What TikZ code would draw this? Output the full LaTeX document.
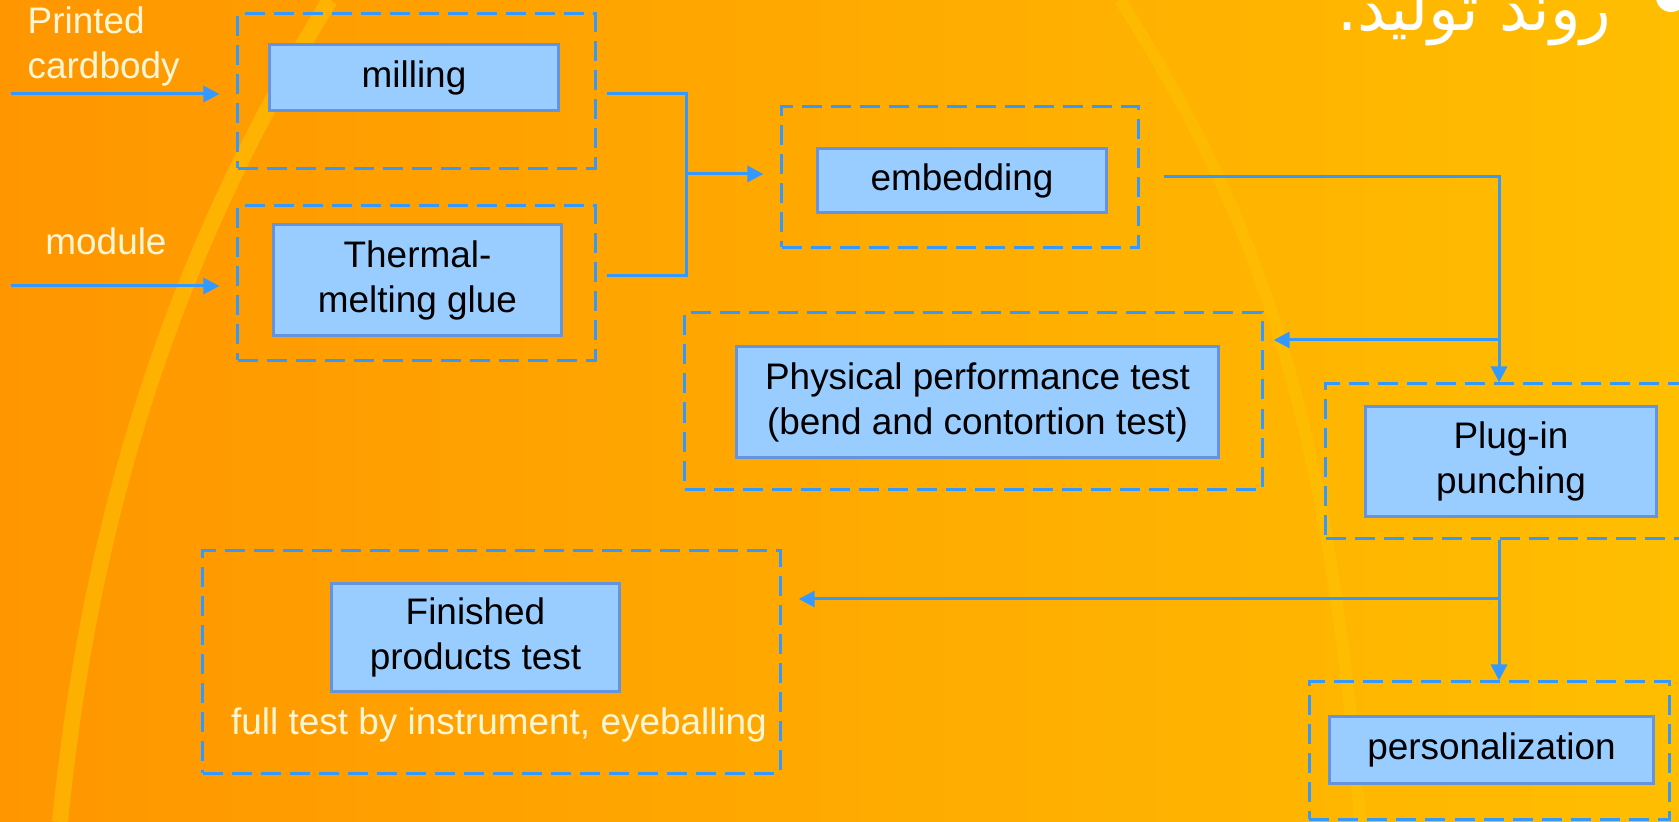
\documentclass[tikz,border=0pt]{standalone}
\usepackage{fontspec}
\setmainfont{Liberation Sans}
\newfontfamily\arabicfont[Script=Arabic]{DejaVu Sans}
\TeXXeTstate=1
\usepackage{tikz}
\usetikzlibrary{arrows.meta,positioning,calc}
\definecolor{bgorange}{RGB}{255,150,0}
\definecolor{bgyellow}{RGB}{255,190,0}
\definecolor{flowblue}{RGB}{51,153,255}
\definecolor{boxfill}{RGB}{153,204,255}
\definecolor{boxedge}{RGB}{100,148,224}
\definecolor{cream}{RGB}{255,246,214}

\begin{document}
\begin{tikzpicture}[x=0.01cm,y=-0.01cm,font=\fontsize{10.5}{12.8}\selectfont,
  frame/.style={draw=flowblue,line width=0.3mm,dash pattern=on 2mm off 0.9mm},
  stage/.style={draw=boxedge,fill=boxfill,line width=0.3mm,align=center,inner sep=0pt},
  flow/.style={draw=flowblue,line width=0.3mm},
  flowarr/.style={flow,-{Triangle[length=1.6mm,width=1.6mm]}},
  lbl/.style={text=cream,inner sep=0pt}]
\useasboundingbox (0,0) rectangle (1679,822);
% background
\shade[left color=bgorange,right color=bgyellow] (0,0) rectangle (1679,822);
\draw[yellow!80!orange,line width=1.6mm,opacity=.35] (330,0) .. controls (170,260) and (90,520) .. (60,822);
\draw[yellow!70!orange,line width=1.2mm,opacity=.25] (1120,0) .. controls (1260,220) and (1330,420) .. (1360,822);
% title
\node[white,inner sep=0pt,anchor=base east,font=\arabicfont\fontsize{18}{22}\selectfont] (title) at (1612,31) {\beginR روند تولید.\endR};
\fill[white] (1671,-3) circle (15);
% stations
\node[frame,minimum width=35.7mm,minimum height=15.4mm] (mill-frame) at (416.5,91) {};
\node[stage,minimum width=28.8mm,minimum height=6.5mm] (mill) at (414,77.5) {milling};
\node[frame,minimum width=35.7mm,minimum height=15.4mm] (glue-frame) at (416.5,283) {};
\node[stage,minimum width=28.7mm,minimum height=11mm] (glue) at (417.5,280) {Thermal-\\melting glue};
\node[frame,minimum width=35.6mm,minimum height=14mm] (emb-frame) at (960,177) {};
\node[stage,minimum width=28.8mm,minimum height=6.3mm] (emb) at (962,180.5) {embedding};
\node[frame,minimum width=57.7mm,minimum height=17.7mm] (phys-frame) at (973.5,401) {};
\node[stage,minimum width=48.1mm,minimum height=11mm] (phys) at (977.5,402) {Physical performance test\\(bend and contortion test)};
\node[frame,minimum width=39.4mm,minimum height=15.4mm] (plug-frame) at (1523,461) {};
\node[stage,minimum width=29mm,minimum height=11mm] (plug) at (1511,461.5) {Plug-in\\punching};
\node[frame,minimum width=57.7mm,minimum height=22.2mm] (fin-frame) at (491.5,662) {};
\node[stage,minimum width=28.7mm,minimum height=10.7mm] (fin) at (475.5,637.5) {Finished\\products test};
\node[frame,minimum width=36mm,minimum height=13.7mm] (pers-frame) at (1489.5,750.5) {};
\node[stage,minimum width=32.4mm,minimum height=6.6mm] (pers) at (1491.5,750) {personalization};
% labels
\node[lbl,align=left,anchor=north west] (card-lbl) at (27,6) {Printed\\cardbody};
\node[lbl,anchor=base] (mod-lbl) at (106,255) {module};
\node[lbl,anchor=base] (fin-lbl) at (499,734) {full test by instrument, eyeballing};
% connectors
\coordinate (in1) at (11,94);
\coordinate (in2) at (11,286);
\coordinate (join) at (686,174);
\coordinate (split) at (1499,177);
\coordinate (tap1) at (1499,340);
\coordinate (tap2) at (1499,599);
\draw[flowarr,shorten >=1.7mm] (in1) -- (in1 -| mill-frame.west);
\draw[flowarr,shorten >=1.7mm] (in2) -- (in2 -| glue-frame.west);
\draw[flow,shorten <=1mm] (mill-frame.east |- in1) -| (join);
\draw[flow,shorten <=1mm] ([yshift=0.7mm]glue-frame.east) -| (join);
\draw[flowarr,shorten >=1.7mm] (join) -- (join -| emb-frame.west);
\draw[flowarr,shorten <=2.4mm] (emb-frame.east) -- (split) -- (split |- plug-frame.north);
\draw[flowarr,shorten >=1mm] (tap1) -- (tap1 -| phys-frame.east);
\draw[flowarr] (plug-frame.south -| split) -- (pers-frame.north -| split);
\draw[flowarr,shorten >=1.7mm] (tap2) -- (tap2 -| fin-frame.east);
\end{tikzpicture}
\end{document}
